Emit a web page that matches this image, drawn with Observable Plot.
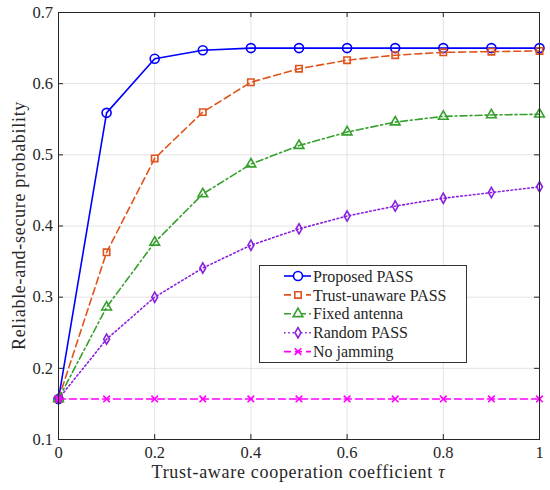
<!DOCTYPE html>
<html>
<head>
<meta charset="utf-8">
<script src="https://cdn.jsdelivr.net/npm/d3@7"></script>
<script src="https://cdn.jsdelivr.net/npm/@observablehq/plot@0.6"></script>
<style>
  html, body { margin: 0; padding: 0; background: #fff; }
  #wrap { position: relative; width: 550px; height: 490px; }
  #legend { position: absolute; left: 259px; top: 265px; width: 206px; height: 96px; border: 1px solid #333; background: #fff; }
  svg text, svg tspan { font-family: 'Liberation Serif', 'Times New Roman', serif !important; }
</style>
</head>
<body>
<div id="wrap"><div id="chart"></div><div id="legend"></div></div>
<script>
const tau = [0, 0.1, 0.2, 0.3, 0.4, 0.5, 0.6, 0.7, 0.8, 0.9, 1.0];
const proposed     = [0.157, 0.559, 0.635, 0.647, 0.650, 0.650, 0.650, 0.650, 0.650, 0.650, 0.650];
const trustUnaware = [0.157, 0.363, 0.495, 0.560, 0.602, 0.621, 0.633, 0.640, 0.644, 0.645, 0.646];
const fixedAntenna = [0.157, 0.286, 0.377, 0.445, 0.487, 0.513, 0.532, 0.546, 0.554, 0.556, 0.557];
const randomPass   = [0.157, 0.241, 0.300, 0.341, 0.373, 0.396, 0.414, 0.428, 0.439, 0.447, 0.455];
const noJamming    = [0.157, 0.157, 0.157, 0.157, 0.157, 0.157, 0.157, 0.157, 0.157, 0.157, 0.157];
const seriesNames = ["Proposed PASS", "Trust-unaware PASS", "Fixed antenna", "Random PASS", "No jamming"];
const xTicks = [0, 0.2, 0.4, 0.6, 0.8, 1];
const yTicks = [0.1, 0.2, 0.3, 0.4, 0.5, 0.6, 0.7];
const xLabel = "Trust-aware cooperation coefficient ";
const xLabelSymbol = "τ";
const yLabel = "Reliable-and-secure probability";

const FONT = "'Liberation Serif', 'Times New Roman', serif";

const styles = [
  {values: proposed,     color: "#0000ff", dash: null,        symbol: "circle",   r: 4.5},
  {values: trustUnaware, color: "#e0541c", dash: "7,4",       symbol: "square",   r: 3.6},
  {values: fixedAntenna, color: "#35a02c", dash: "7,3,2,3",   symbol: "triangle", r: 3.6},
  {values: randomPass,   color: "#8a1fe0", dash: "1.6,2.6",   symbol: "diamond",  r: 3.1},
  {values: noJamming,    color: "#ff00ff", dash: "7,4",       symbol: "times",    r: 3.1}
];

const marks = [
  Plot.gridX(xTicks, {stroke: "#e3e3e3", strokeOpacity: 1}),
  Plot.gridY(yTicks, {stroke: "#e3e3e3", strokeOpacity: 1}),
  Plot.ruleX(xTicks, {x: d => d, y1: 0.1, y2: 0.1, insetTop: -5, stroke: "#262626"}),
  Plot.ruleX(xTicks, {x: d => d, y1: 0.7, y2: 0.7, insetBottom: -5, stroke: "#262626"}),
  Plot.ruleY(yTicks, {y: d => d, x1: 0, x2: 0, insetRight: -5, stroke: "#262626"}),
  Plot.ruleY(yTicks, {y: d => d, x1: 1, x2: 1, insetLeft: -5, stroke: "#262626"}),
  Plot.axisX(xTicks, {tickSize: 0, tickPadding: 7, fontSize: 16.5, label: null, tickFormat: d => String(d)}),
  Plot.axisY(yTicks, {tickSize: 0, tickPadding: 5.5, fontSize: 16.5, label: null, tickFormat: d => String(d)})
];
styles.forEach((s, k) => {
  const data = tau.map((t, i) => ({t, v: s.values[i]}));
  marks.push(Plot.line(data, {x: "t", y: "v", stroke: s.color, strokeWidth: 1.6, strokeDasharray: s.dash}));
  marks.push(Plot.dot(data, {x: "t", y: "v", symbol: () => s.symbol, r: s.r, stroke: s.color, fill: "none", strokeWidth: 1.6}));
});
marks.push(Plot.frame({stroke: "#262626", strokeWidth: 1}));

const chart = Plot.plot({
  width: 550, height: 490,
  marginLeft: 58, marginRight: 11, marginTop: 12, marginBottom: 51,
  x: {domain: [0, 1]},
  y: {domain: [0.1, 0.7]},
  symbol: {type: "identity"},
  style: {fontSize: "17px", color: "#262626", background: "#fff"},
  marks
});
document.getElementById("chart").appendChild(chart);

// axis labels
const xs = chart.scale("x"), ys = chart.scale("y");
const cx = (xs.range[0] + xs.range[1]) / 2;
const cy = (ys.range[0] + ys.range[1]) / 2;
const svg = d3.select(chart);
const xl = svg.append("text").attr("x", cx).attr("y", 477.5).attr("text-anchor", "middle")
  .attr("font-size", 18).attr("letter-spacing", 0.7).attr("fill", "#262626");
xl.append("tspan").text(xLabel);
xl.append("tspan").attr("font-style", "italic").text(xLabelSymbol);
svg.append("text").attr("transform", `translate(25,${cy}) rotate(-90)`).attr("text-anchor", "middle")
  .attr("font-size", 18).attr("letter-spacing", 0.7).attr("fill", "#262626").text(yLabel);

// legend
const lg = d3.select("#legend").append("svg").attr("width", 206).attr("height", 96);
styles.forEach((s, k) => {
  const y = 10 + k * 18.9;
  lg.append("line").attr("x1", 24).attr("x2", 51).attr("y1", y).attr("y2", y)
    .attr("stroke", s.color).attr("stroke-width", 1.6).attr("stroke-dasharray", s.dash);
  const sym = {circle: d3.symbolCircle, square: d3.symbolSquare, triangle: d3.symbolTriangle, diamond: d3.symbolDiamond, times: d3.symbolTimes}[s.symbol];
  lg.append("path").attr("d", d3.symbol(sym, Math.PI * s.r * s.r)()).attr("transform", `translate(38,${y})`)
    .attr("fill", s.symbol === "times" ? "none" : "#fff").attr("stroke", s.color).attr("stroke-width", 1.6);
  lg.append("text").attr("x", 53).attr("y", y).attr("dy", "0.35em").attr("font-size", 16)
    .attr("fill", "#262626").text(seriesNames[k]);
});
d3.selectAll("svg text, svg tspan").style("font-family", FONT);
</script>
</body>
</html>
